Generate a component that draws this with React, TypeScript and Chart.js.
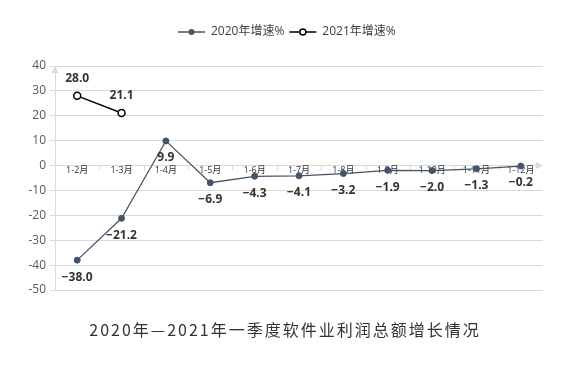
import React, { useEffect, useRef } from 'react';
import { Chart, registerables } from 'chart.js';

Chart.register(...registerables);

const categories = ['1-2月', '1-3月', '1-4月', '1-5月', '1-6月', '1-7月', '1-8月', '1-9月', '1-10月', '1-11月', '1-12月'];
const growth2020 = [-38.0, -21.2, 9.9, -6.9, -4.3, -4.1, -3.2, -1.9, -2.0, -1.3, -0.2];
const growth2021 = [28.0, 21.1, null, null, null, null, null, null, null, null, null];
const seriesNames = ['2020年增速%', '2021年增速%'];
const yMin = -50;
const yMax = 40;
const yStep = 10;
const titleText = '2020年—2021年一季度软件业利润总额增长情况';

const C2020 = '#44546A';
const C2021 = '#000000';
const GRID = '#d9d9d9';
const FONT = '"Open Sans", "Noto Sans CJK SC", sans-serif';

const fmt = (v: number) => (v < 0 ? '\u2212' : '') + Math.abs(v).toFixed(1);

const decorPlugin = {
  id: 'decor',
  beforeDatasetsDraw(chart: any) {
    const { ctx, chartArea, scales } = chart;
    const x = scales.x;
    const y = scales.y;
    const y0 = y.getPixelForValue(0);
    ctx.save();
    // arrows
    ctx.fillStyle = GRID;
    ctx.beginPath();
    ctx.moveTo(chartArea.left, chartArea.top);
    ctx.lineTo(chartArea.left - 3.5, chartArea.top + 7);
    ctx.lineTo(chartArea.left + 3.5, chartArea.top + 7);
    ctx.closePath();
    ctx.fill();
    ctx.beginPath();
    ctx.moveTo(chartArea.right, y0);
    ctx.lineTo(chartArea.right - 7, y0 - 3.5);
    ctx.lineTo(chartArea.right - 7, y0 + 3.5);
    ctx.closePath();
    ctx.fill();
    // x tick marks at category boundaries
    const n = categories.length;
    const step = (chartArea.right - chartArea.left) / n;
    ctx.strokeStyle = GRID;
    ctx.lineWidth = 1;
    for (let k = 0; k < n; k++) {
      const xb = Math.round(chartArea.left + k * step) + 0.5;
      ctx.beginPath();
      ctx.moveTo(xb, y0);
      ctx.lineTo(xb, y0 + 5);
      ctx.stroke();
    }
    // x labels
    ctx.font = '9px ' + FONT;
    ctx.fillStyle = '#333333';
    ctx.textAlign = 'center';
    ctx.textBaseline = 'middle';
    categories.forEach((c, i) => {
      ctx.fillText(c, x.getPixelForValue(i), y0 + 4.5);
    });
    ctx.restore();
  },
  afterDatasetsDraw(chart: any) {
    const { ctx } = chart;
    ctx.save();
    ctx.font = 'bold 12px ' + FONT;
    ctx.fillStyle = '#333333';
    ctx.textAlign = 'center';
    ctx.textBaseline = 'middle';
    chart.data.datasets.forEach((ds: any, di: number) => {
      const meta = chart.getDatasetMeta(di);
      meta.data.forEach((pt: any, i: number) => {
        const v = ds.data[i];
        if (v === null || v === undefined) return;
        const dy = di === 0 ? 17 : -17;
        ctx.fillText(fmt(v), pt.x, pt.y + dy);
      });
    });
    ctx.restore();
  },
  afterDraw(chart: any) {
    const { ctx } = chart;
    ctx.save();
    // legend
    ctx.font = '12px ' + FONT;
    ctx.textBaseline = 'middle';
    ctx.textAlign = 'left';
    const ly = 32;
    let lx = 178;
    const colors = [C2020, C2021];
    seriesNames.forEach((name, i) => {
      ctx.strokeStyle = colors[i];
      ctx.lineWidth = 1.5;
      ctx.beginPath();
      ctx.moveTo(lx, ly);
      ctx.lineTo(lx + 27, ly);
      ctx.stroke();
      ctx.beginPath();
      ctx.arc(lx + 13.5, ly, 3, 0, Math.PI * 2);
      ctx.fillStyle = i === 0 ? C2020 : '#ffffff';
      ctx.fill();
      if (i === 1) {
        ctx.lineWidth = 1.5;
        ctx.stroke();
      }
      ctx.fillStyle = '#404040';
      ctx.fillText(name, lx + 33, ly);
      lx += 33 + ctx.measureText(name).width + 5;
    });
    // title
    ctx.font = '16px "Noto Sans CJK SC", sans-serif';
    ctx.fillStyle = '#333333';
    ctx.textAlign = 'left';
    (ctx as any).letterSpacing = '2px';
    const w = ctx.measureText(titleText).width - 2;
    ctx.fillText(titleText, 284 - w / 2, 330);
    ctx.restore();
  },
};

export default function App() {
  const ref = useRef<HTMLCanvasElement>(null);
  useEffect(() => {
    if (!ref.current) return;
    const chart = new Chart(ref.current, {
      type: 'line',
      data: {
        labels: categories,
        datasets: [
          {
            label: seriesNames[0],
            data: growth2020,
            borderColor: C2020,
            backgroundColor: C2020,
            borderWidth: 1.25,
            pointRadius: 3,
            pointBackgroundColor: C2020,
            pointBorderColor: C2020,
            pointBorderWidth: 1,
            tension: 0,
          },
          {
            label: seriesNames[1],
            data: growth2021,
            borderColor: C2021,
            backgroundColor: '#ffffff',
            borderWidth: 1.5,
            pointRadius: 3.5,
            pointBackgroundColor: '#ffffff',
            pointBorderColor: C2021,
            pointBorderWidth: 1.5,
            tension: 0,
            spanGaps: false,
          },
        ],
      },
      options: {
        responsive: false,
        animation: false,
        devicePixelRatio: 1,
        layout: { padding: { left: 0, right: 35, top: 66, bottom: 95 } },
        plugins: {
          legend: { display: false },
          title: { display: false },
          tooltip: { enabled: false },
        },
        scales: {
          x: {
            type: 'category',
            display: false,
            offset: true,
          },
          y: {
            min: yMin,
            max: yMax,
            ticks: {
              stepSize: yStep,
              color: '#595959',
              font: { size: 12, family: FONT },
              padding: 4,
            },
            grid: { color: GRID, tickLength: 5, lineWidth: 1 },
            border: { color: GRID, width: 1 },
            afterFit(scale: any) {
              scale.width = 55;
            },
          },
        },
      },
      plugins: [decorPlugin],
    });
    return () => chart.destroy();
  }, []);
  return (
    <div style={{ position: 'absolute', left: 0, top: 0, width: 578, height: 385, background: '#ffffff' }}>
      <canvas ref={ref} width={578} height={385} style={{ width: 578, height: 385 }} />
    </div>
  );
}
